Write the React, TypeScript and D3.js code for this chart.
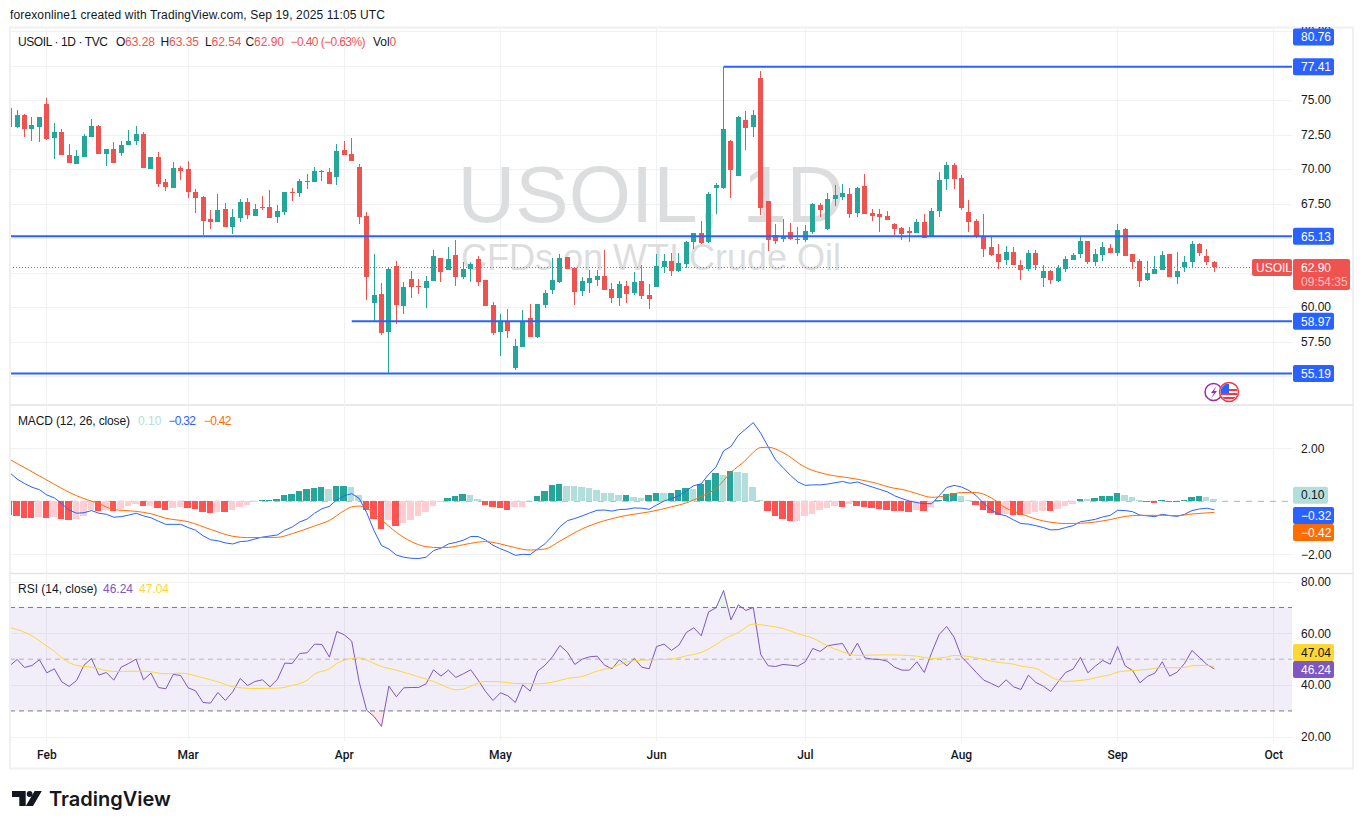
import * as React from 'react';
import { useEffect, useRef } from 'react';
import * as d3 from 'd3';

// bar index of the first array entry, Feb 3 is bar 0
const firstBar = -5;

const opens = [
  74.40,73.04,73.91,72.92,73.07,74.71,72.27,72.68,71.01,70.39,
  70.89,72.34,73.12,71.11,71.45,71.18,71.74,72.03,72.54,70.02,
  70.87,69.06,68.65,70.07,70.00,68.33,67.97,66.38,66.18,67.10,
  65.82,66.47,67.61,66.62,67.25,67.25,66.52,66.88,68.36,68.26,
  69.13,69.06,69.81,69.78,69.42,71.37,71.09,70.15,66.59,60.29,
  60.94,58.19,62.97,60.07,62.03,61.52,61.38,61.88,63.55,62.68,
  63.77,62.17,62.75,63.48,61.96,60.14,58.19,58.93,55.58,57.10,
  59.20,57.83,60.14,61.23,61.81,63.62,62.83,61.16,61.74,61.96,
  62.25,61.30,60.65,61.52,61.01,61.88,60.87,61.45,62.90,63.33,
  62.61,63.12,64.71,65.36,64.71,68.62,68.62,72.03,69.49,73.55,
  73.04,76.59,67.68,65.22,64.93,65.43,64.95,64.85,65.43,67.39,
  65.65,67.82,67.97,68.19,66.81,68.77,66.81,66.74,66.59,66.01,
  65.72,65.51,65.36,66.16,65.07,66.96,69.28,70.29,69.35,66.88,
  66.23,65.14,64.35,63.84,63.41,63.99,63.04,62.75,63.91,62.10,
  62.61,61.88,62.75,63.41,63.84,64.78,63.26,63.77,64.28,63.91,
  65.65,63.84,63.33,61.96,62.39,62.68,63.84,62.17,62.90,63.26,
  64.57,63.70,63.28,
];
const highs = [
  74.45,74.27,73.96,73.77,73.80,75.15,73.33,72.90,71.81,71.37,
  72.54,73.62,73.19,71.47,71.96,72.03,72.83,73.12,72.68,70.89,
  71.23,69.27,70.51,70.22,70.58,68.55,68.04,67.03,68.19,67.53,
  67.10,67.83,67.90,67.46,68.04,68.48,67.39,68.35,68.62,69.27,
  69.64,70.15,69.93,70.07,71.81,72.03,72.25,70.36,66.88,63.84,
  61.74,62.90,63.33,61.81,62.61,62.03,62.25,64.13,63.57,64.35,
  64.86,63.26,63.26,63.70,61.98,60.36,59.49,59.85,57.68,59.78,
  60.22,60.24,61.23,63.55,63.84,63.64,62.85,62.17,62.68,62.68,
  64.13,61.74,61.88,61.88,62.54,63.04,61.67,63.84,63.84,63.91,
  63.91,64.78,65.38,66.23,68.33,68.98,77.41,72.10,73.84,74.20,
  74.27,77.10,67.70,66.01,66.38,66.09,65.80,65.94,67.54,67.54,
  68.26,68.84,68.91,68.62,68.70,69.64,67.10,67.10,66.96,66.09,
  65.80,65.80,66.38,66.74,67.17,69.78,70.51,70.43,69.57,67.75,
  66.38,66.74,65.14,64.56,64.42,64.35,63.41,64.13,64.13,63.04,
  62.68,63.04,63.70,63.91,65.07,64.80,64.20,64.71,64.57,66.02,
  65.72,63.86,63.48,63.33,63.70,64.06,63.86,63.99,63.70,64.78,
  64.64,64.20,63.35,
];
const lows = [
  72.98,72.97,72.34,72.05,71.98,72.12,70.75,71.02,70.44,70.37,
  70.87,72.32,71.09,70.25,70.44,70.94,71.72,71.74,70.08,70.00,
  68.72,68.43,68.63,69.23,67.92,66.84,65.22,65.68,66.16,65.80,
  65.31,66.18,66.40,66.60,67.03,66.45,66.11,66.69,67.68,67.99,
  68.55,69.04,69.13,68.89,68.84,70.99,70.56,66.01,60.51,58.98,
  57.97,55.19,58.77,59.49,60.65,60.94,59.93,61.86,61.81,62.66,
  61.52,62.03,61.81,61.52,60.05,57.97,56.45,57.75,55.43,57.08,
  57.81,57.75,59.93,60.94,61.71,62.73,60.14,60.80,61.01,61.52,
  61.21,60.29,60.07,60.29,60.87,60.58,59.85,61.43,62.46,62.25,
  62.54,62.83,64.20,64.57,64.64,66.74,68.55,67.90,69.47,71.38,
  72.32,66.67,64.06,64.56,64.71,64.85,64.56,64.71,65.29,66.52,
  65.58,67.32,67.75,66.45,66.52,66.72,66.23,65.43,66.28,65.22,
  64.85,64.71,65.34,64.97,65.05,66.52,68.48,68.55,67.03,65.43,
  64.99,63.62,63.70,62.75,63.04,63.02,61.96,62.61,62.68,61.45,
  61.67,61.81,62.54,63.39,63.55,63.12,62.97,63.33,63.89,63.70,
  63.68,62.75,61.45,61.88,62.37,62.66,62.15,61.67,62.54,62.83,
  63.70,63.04,62.54,
];
const closes = [
  73.02,73.91,72.92,73.19,73.77,72.17,72.68,71.04,70.46,70.94,
  72.39,73.12,71.11,71.45,70.46,71.74,72.03,72.54,70.10,70.87,
  68.94,68.72,70.07,69.88,68.36,67.92,66.25,66.18,67.03,65.82,
  66.52,67.61,66.69,67.10,67.15,66.47,66.96,68.33,68.28,69.13,
  69.06,69.85,69.88,68.91,71.30,71.01,70.58,66.52,62.17,60.87,
  58.12,62.75,60.14,61.45,61.45,61.47,61.88,63.70,62.54,63.48,
  62.17,62.75,63.12,61.81,60.07,58.12,58.91,58.26,57.17,58.98,
  57.83,60.22,61.01,61.96,63.55,62.75,61.09,61.88,62.10,62.25,
  61.23,60.65,61.67,60.94,61.81,60.80,60.58,62.97,63.33,62.61,
  63.19,64.71,65.36,64.64,68.19,68.84,72.90,69.93,73.77,72.97,
  73.91,67.17,64.85,64.78,65.14,64.93,64.88,65.51,67.46,67.03,
  67.82,68.12,68.26,66.74,68.62,66.74,66.59,66.52,66.30,65.65,
  65.29,65.36,66.16,64.99,66.96,69.20,70.29,69.28,67.17,66.16,
  65.07,64.20,63.77,63.26,63.99,63.04,62.68,63.91,63.04,62.61,
  61.96,62.83,63.48,63.77,64.78,63.26,63.84,64.35,63.91,65.58,
  63.70,63.26,61.88,62.46,62.75,63.77,62.17,62.61,63.26,64.57,
  63.91,63.26,62.90,
];

const macdHist = [
  -0.52,-0.55,-0.63,-0.63,-0.59,-0.63,-0.59,-0.67,-0.70,-0.67,
  -0.55,-0.33,-0.36,-0.33,-0.36,-0.29,-0.18,-0.10,-0.18,-0.17,
  -0.25,-0.33,-0.25,-0.21,-0.25,-0.29,-0.40,-0.44,-0.40,-0.41,
  -0.33,-0.21,-0.14,-0.04,0.05,0.06,0.09,0.24,0.28,0.39,
  0.47,0.50,0.54,0.47,0.58,0.59,0.54,0.24,-0.33,-0.67,
  -1.04,-0.70,-0.93,-0.82,-0.70,-0.55,-0.40,-0.18,-0.04,0.13,
  0.20,0.28,0.24,0.09,-0.14,-0.21,-0.25,-0.33,-0.21,-0.20,
  0.02,0.20,0.39,0.62,0.65,0.58,0.58,0.54,0.50,0.43,
  0.31,0.31,0.24,0.25,0.16,0.13,0.24,0.31,0.31,0.32,
  0.43,0.50,0.47,0.65,0.81,1.07,0.99,1.14,1.11,1.07,
  0.54,0.05,-0.36,-0.55,-0.67,-0.74,-0.73,-0.55,-0.48,-0.33,
  -0.25,-0.18,-0.21,-0.10,-0.18,-0.21,-0.25,-0.29,-0.33,-0.36,
  -0.37,-0.40,-0.33,-0.36,-0.21,0.05,0.28,0.31,0.20,0.05,
  -0.14,-0.33,-0.44,-0.52,-0.48,-0.52,-0.52,-0.48,-0.40,-0.36,
  -0.36,-0.29,-0.18,-0.10,0.09,0.09,0.13,0.20,0.21,0.31,
  0.24,0.16,0.05,-0.04,-0.05,0.05,-0.03,-0.03,0.05,0.16,
  0.20,0.16,0.10,
];
const macdLine = [
  1.08,0.84,0.67,0.53,0.44,0.24,0.13,-0.09,-0.33,-0.45,
  -0.43,-0.35,-0.45,-0.49,-0.60,-0.58,-0.52,-0.45,-0.55,-0.62,
  -0.75,-0.87,-0.87,-0.87,-0.99,-1.09,-1.30,-1.45,-1.49,-1.57,
  -1.61,-1.52,-1.50,-1.42,-1.35,-1.31,-1.27,-1.09,-0.97,-0.78,
  -0.67,-0.45,-0.28,-0.19,0.06,0.21,0.29,0.11,-0.42,-1.11,
  -1.67,-1.80,-2.03,-2.11,-2.15,-2.16,-2.11,-1.86,-1.77,-1.61,
  -1.55,-1.47,-1.33,-1.33,-1.46,-1.66,-1.79,-1.90,-2.04,-2.00,
  -2.01,-1.80,-1.60,-1.30,-0.96,-0.73,-0.65,-0.55,-0.44,-0.34,
  -0.33,-0.37,-0.31,-0.30,-0.25,-0.26,-0.30,-0.14,0.01,0.10,
  0.21,0.40,0.59,0.66,1.02,1.30,1.90,2.07,2.49,2.73,
  2.97,2.57,2.06,1.56,1.27,0.98,0.73,0.60,0.62,0.62,
  0.65,0.70,0.75,0.68,0.73,0.63,0.54,0.45,0.36,0.21,
  0.10,0.01,-0.05,-0.09,-0.09,0.21,0.52,0.60,0.54,0.41,
  0.21,-0.08,-0.33,-0.48,-0.55,-0.70,-0.84,-0.86,-0.92,-0.99,
  -1.08,-1.07,-0.99,-0.92,-0.77,-0.73,-0.68,-0.59,-0.53,-0.34,
  -0.35,-0.39,-0.52,-0.55,-0.58,-0.49,-0.54,-0.57,-0.49,-0.35,
  -0.29,-0.26,-0.32,
];
const signalBars = [
  -5,0,1,4,7,9,12,14,16,19,22,25,27,31,33,36,38,40,41,42,43,45,47,49,51,53,54,
  56,58,59,61,63,65,67,69,72,75,78,81,84,86,88,90,92,94,95,96,97,99,102,105,108,111,114,
  115,117,119,121,123,125,127,129,131,133,135,137,139,141,143,145,147,150,152,154,157,
];
const signalLine = [
  1.58,0.80,0.64,0.21,-0.09,-0.31,-0.38,-0.47,-0.64,-0.77,-1.06,-1.32,-1.37,-1.36,-1.22,-0.93,-0.72,-0.35,-0.21,-0.18,-0.26,-0.70,-1.17,-1.52,-1.71,-1.75,-1.74,
  -1.64,-1.54,-1.52,-1.61,-1.75,-1.84,-1.80,-1.50,-1.04,-0.73,-0.53,-0.40,-0.21,-0.06,0.18,0.49,1.09,1.56,1.85,2.03,2.04,1.84,1.28,1.01,0.88,0.72,0.49,
  0.45,0.29,0.15,0.21,0.33,0.33,0.13,-0.26,-0.47,-0.67,-0.79,-0.84,-0.83,-0.78,-0.69,-0.57,-0.53,-0.53,-0.54,-0.48,-0.42,
];

const rsiLine = [
  47.45,49.90,46.80,47.58,49.77,44.74,46.29,41.26,39.46,41.78,
  47.70,50.28,43.84,44.87,41.90,46.93,48.35,50.02,42.03,44.61,
  39.07,38.55,44.10,43.71,38.94,37.78,33.27,33.01,37.14,34.05,
  37.40,42.55,39.84,41.39,42.03,39.33,42.16,48.48,48.35,52.22,
  52.47,55.82,55.69,50.80,60.72,59.43,56.98,41.26,30.31,27.86,
  24.00,39.59,35.46,38.94,39.07,39.07,40.49,45.90,43.45,45.77,
  42.94,44.35,45.90,41.90,37.52,34.05,37.01,35.85,33.27,40.10,
  37.65,45.39,47.70,50.93,55.31,52.73,47.96,50.02,50.93,51.18,
  47.70,46.29,49.77,47.45,50.28,46.93,46.29,54.92,55.82,53.38,
  55.44,60.33,62.14,59.05,68.32,69.87,76.57,65.23,71.03,68.84,
  70.00,51.83,47.45,47.19,47.96,47.70,47.32,49.00,54.15,52.99,
  55.18,55.69,56.08,51.31,56.21,50.54,50.02,49.90,49.25,46.93,
  45.77,45.77,49.00,44.87,52.60,59.56,62.65,58.53,50.93,47.96,
  44.87,41.90,40.62,39.20,42.03,39.33,38.30,43.84,41.00,39.59,
  37.52,41.26,44.87,46.16,50.67,44.74,47.32,49.51,48.09,54.92,
  47.45,45.64,40.88,43.32,44.61,49.00,43.45,45.00,48.35,53.38,
  50.67,47.96,46.24,
];
const rsiMaBars = [
  -5,-2,0,1,2,4,6,9,13,16,18,21,23,25,28,31,33,35,36,38,39,41,42,44,45,47,50,52,54,
  55,56,57,59,61,63,66,68,70,72,74,76,78,80,83,84,86,88,90,91,93,95,97,99,101,103,105,107,109,111,113,
  115,117,119,121,122,124,126,128,130,131,133,134,135,136,137,138,140,142,143,144,146,148,150,152,153,154,156,157,
];
const rsiMaLine = [
  62.27,59.05,55.05,53.12,50.54,47.58,46.93,45.26,45.39,44.35,44.61,42.81,41.26,39.33,38.68,38.81,39.84,41.90,44.23,46.29,48.35,50.28,50.54,48.35,47.19,45.77,43.19,41.39,38.94,
  38.17,38.43,39.59,41.39,41.26,40.62,40.49,41.13,42.55,43.32,45.39,46.80,48.99,49.64,49.90,50.02,51.31,52.60,55.69,57.63,60.33,63.56,62.91,61.88,59.82,58.14,55.18,52.86,51.44,51.57,51.70,
  51.57,51.18,50.28,50.80,51.44,51.06,49.90,48.74,48.09,47.32,46.42,44.87,43.19,41.90,41.39,41.52,42.16,43.45,43.97,45.00,45.64,46.03,46.80,46.67,46.80,47.45,47.58,47.04,
];

const monthBars = [0, 19, 40, 61, 82, 102, 123, 144, 165];
const monthNames = ['Feb', 'Mar', 'Apr', 'May', 'Jun', 'Jul', 'Aug', 'Sep', 'Oct'];
const priceGrid = [80, 77.5, 75, 72.5, 70, 67.5, 65, 62.5, 60, 57.5, 55];
const macdTicks = [2, -2];
const rsiTicks = [80, 60, 40, 20];
// drawn levels: price and the bar they start from
const levelPrices = [77.41, 65.13, 58.97, 55.19];
const levelStarts = [91, -6, 41, -6];

const FONT = "'Liberation Sans', Arial, sans-serif";
const INK = '#131722';
const GRID = '#f0f1f3';
const UP = '#26a69a';
const DOWN = '#ef5350';
const BLUE = '#2962ff';

const L = 10, R = 1292;

const App: React.FC = () => {
  const svgRef = useRef<SVGSVGElement>(null);

  useEffect(() => {
    if (!svgRef.current) return;
    const svg = d3.select(svgRef.current);
    svg.selectAll('*').remove();

    const x = d3.scaleLinear().domain([0, 165]).range([46.85, 1273.8]);
    const y = d3.scaleLinear().domain([55, 75]).range([376, 100]);
    const macdY = d3.scaleLinear().domain([-2, 2]).range([554.3, 448.3]);
    const rsiY = d3.scaleLinear().domain([20, 80]).range([736.8, 581.6]);
    const bars = opens.map((_, i) => i + firstBar);
    const px = (b: number) => Math.floor(x(b));

    const defs = svg.append('defs');
    defs.append('clipPath').attr('id', 'plot').append('rect')
      .attr('x', 11).attr('y', 28).attr('width', R - 11).attr('height', 712);
    defs.append('clipPath').attr('id', 'axis').append('rect')
      .attr('x', R).attr('y', 27).attr('width', 60).attr('height', 714);
    defs.append('clipPath').attr('id', 'over').append('rect')
      .attr('x', 11).attr('y', 574).attr('width', R - 11).attr('height', rsiY(70) - 574);
    defs.append('clipPath').attr('id', 'under').append('rect')
      .attr('x', 11).attr('y', rsiY(30)).attr('width', R - 11).attr('height', 30);
    defs.append('clipPath').attr('id', 'flag').append('circle')
      .attr('cx', 1229).attr('cy', 392).attr('r', 8.5);

    const text = (tx: number, ty: number, s: string, fill = INK, fit?: number) => {
      const t = svg.append('text').attr('x', tx).attr('y', ty).attr('fill', fill)
        .attr('font-family', FONT).attr('font-size', 12).text(s);
      if (fit) t.attr('textLength', fit).attr('lengthAdjust', 'spacing');
      return t;
    };

    text(10, 19, 'forexonline1 created with TradingView.com, Sep 19, 2025 11:05 UTC', INK, 375);

    // frame and pane separators
    svg.append('rect').attr('x', 10).attr('y', 27.5).attr('width', 1343).attr('height', 741)
      .attr('fill', 'none').attr('stroke', '#f0f0f0').attr('stroke-width', 2);
    [405, 573.5].forEach(sep => {
      svg.append('line').attr('x1', L).attr('x2', 1353).attr('y1', sep).attr('y2', sep)
        .attr('stroke', '#e0e3eb').attr('stroke-width', 1.5);
    });

    // grid
    const grid = svg.append('g').attr('stroke', GRID).attr('stroke-width', 1).attr('shape-rendering', 'crispEdges');
    monthBars.forEach(b => {
      grid.append('line').attr('x1', px(b) + 0.5).attr('x2', px(b) + 0.5).attr('y1', 28).attr('y2', 741);
    });
    const hline = (py: number) => {
      grid.append('line').attr('x1', L).attr('x2', R).attr('y1', Math.round(py) + 0.5).attr('y2', Math.round(py) + 0.5);
    };
    priceGrid.forEach(p => hline(y(p)));
    macdTicks.forEach(v => hline(macdY(v)));
    rsiTicks.forEach(v => hline(rsiY(v)));

    // watermark
    const mark = svg.append('g').attr('fill', '#dcddde').attr('font-family', FONT).attr('text-anchor', 'middle');
    mark.append('text').attr('x', 651).attr('y', 222).attr('font-size', 80).text('USOIL, 1D');
    mark.append('text').attr('x', 651).attr('y', 270).attr('font-size', 36).text('CFDs on WTI Crude Oil');

    const plot = svg.append('g').attr('clip-path', 'url(#plot)');

    // last price line
    const lastClose = closes[closes.length - 1];
    plot.append('line').attr('x1', L).attr('x2', 1252).attr('y1', 267.5).attr('y2', 267.5)
      .attr('stroke', DOWN).attr('stroke-dasharray', '1,2');

    // candles
    const candles = plot.append('g').attr('shape-rendering', 'crispEdges');
    candles.selectAll('.wick').data(bars).join('rect')
      .attr('x', b => px(b))
      .attr('width', 1)
      .attr('y', (_, i) => y(highs[i]))
      .attr('height', (_, i) => Math.max(1, y(lows[i]) - y(highs[i])))
      .attr('fill', (_, i) => (closes[i] >= opens[i] ? UP : DOWN));
    candles.selectAll('.body').data(bars).join('rect')
      .attr('x', b => px(b) - 2)
      .attr('width', 5)
      .attr('y', (_, i) => y(Math.max(opens[i], closes[i])))
      .attr('height', (_, i) => Math.max(1, Math.abs(y(opens[i]) - y(closes[i]))))
      .attr('fill', (_, i) => (closes[i] >= opens[i] ? UP : DOWN));

    // level lines
    levelPrices.forEach((p, i) => {
      plot.append('line').attr('x1', x(levelStarts[i])).attr('x2', R).attr('y1', y(p)).attr('y2', y(p))
        .attr('stroke', BLUE).attr('stroke-width', 2);
    });

    // MACD pane
    const zero = macdY(0);
    plot.append('line').attr('x1', L).attr('x2', R).attr('y1', zero).attr('y2', zero)
      .attr('stroke', '#787b86').attr('stroke-opacity', 0.6).attr('stroke-dasharray', '6,6');
    plot.append('g').attr('shape-rendering', 'crispEdges').selectAll('rect').data(macdHist).join('rect')
      .attr('x', (_, i) => px(bars[i] - 1) + 4)
      .attr('width', (_, i) => px(bars[i]) + 3 - (px(bars[i] - 1) + 4))
      .attr('y', d => (d >= 0 ? macdY(d) : zero))
      .attr('height', d => Math.abs(macdY(d) - zero))
      .attr('fill', (d, i) => {
        const rising = i > 0 && macdHist[i - 1] < d;
        if (d >= 0) return rising ? UP : '#b2dfdb';
        return rising ? '#ffcdd2' : '#ff5252';
      });
    const macdPath = d3.line<number>().x((_, i) => x(bars[i])).y(d => macdY(d));
    plot.append('path').attr('d', macdPath(macdLine)).attr('fill', 'none').attr('stroke', BLUE).attr('stroke-width', 1);
    const signalPath = d3.line<number>().x((_, i) => x(signalBars[i])).y(d => macdY(d)).curve(d3.curveMonotoneX);
    plot.append('path').attr('d', signalPath(signalLine)).attr('fill', 'none').attr('stroke', '#ff6d00').attr('stroke-width', 1);

    // RSI pane
    plot.append('rect').attr('x', L).attr('width', R - L)
      .attr('y', rsiY(70)).attr('height', rsiY(30) - rsiY(70))
      .attr('fill', '#7e57c2').attr('fill-opacity', 0.1);
    [[70, 1], [50, 0.5], [30, 1]].forEach(([lvl, op]) => {
      plot.append('line').attr('x1', L).attr('x2', R).attr('y1', rsiY(lvl)).attr('y2', rsiY(lvl))
        .attr('stroke', '#787b86').attr('stroke-opacity', op).attr('stroke-dasharray', '5,4');
    });
    const rsiArea = (lvl: number) => d3.area<number>().x((_, i) => x(bars[i])).y0(rsiY(lvl)).y1(d => rsiY(d));
    svg.append('path').attr('d', rsiArea(70)(rsiLine)).attr('clip-path', 'url(#over)').attr('fill', '#4caf50').attr('fill-opacity', 0.12);
    svg.append('path').attr('d', rsiArea(30)(rsiLine)).attr('clip-path', 'url(#under)').attr('fill', '#f23645').attr('fill-opacity', 0.12);
    const rsiPath = d3.line<number>().x((_, i) => x(bars[i])).y(d => rsiY(d));
    plot.append('path').attr('d', rsiPath(rsiLine)).attr('fill', 'none').attr('stroke', '#7e57c2').attr('stroke-width', 1);
    const rsiMaPath = d3.line<number>().x((_, i) => x(rsiMaBars[i])).y(d => rsiY(d)).curve(d3.curveMonotoneX);
    plot.append('path').attr('d', rsiMaPath(rsiMaLine)).attr('fill', 'none').attr('stroke', '#fdd835').attr('stroke-width', 1);

    // axes
    const styleAxis = (g: any) => {
      g.select('.domain').remove();
      g.selectAll('text').attr('fill', INK).attr('font-size', 12).attr('font-family', FONT);
    };
    const axes = svg.append('g').attr('clip-path', 'url(#axis)');
    axes.append('g').attr('transform', `translate(${R},0)`)
      .call(d3.axisRight(y).tickValues([80, 75, 72.5, 70, 67.5, 60, 57.5]).tickSize(0).tickPadding(9).tickFormat(d3.format('.2f')))
      .call(styleAxis);
    axes.append('g').attr('transform', `translate(${R},0)`)
      .call(d3.axisRight(macdY).tickValues(macdTicks).tickSize(0).tickPadding(9).tickFormat(d => d3.format('.2f')(d as number).replace('-', '\u2212')))
      .call(styleAxis);
    axes.append('g').attr('transform', `translate(${R},0)`)
      .call(d3.axisRight(rsiY).tickValues(rsiTicks).tickSize(0).tickPadding(9).tickFormat(d3.format('.2f')))
      .call(styleAxis);
    svg.append('g').attr('transform', 'translate(0,741)')
      .call(d3.axisBottom(x).tickValues(monthBars).tickSize(0).tickPadding(9).tickFormat((_, i) => monthNames[i]))
      .call(styleAxis)
      .selectAll('text').attr('font-family', 'Roboto, sans-serif').attr('font-weight', 500).attr('dx', -0.5);

    // scale labels
    const box = (cy: number, w: number, bg: string, s: string, fg = '#fff') => {
      svg.append('rect').attr('x', 1293).attr('y', cy - 8.5).attr('width', w).attr('height', 17).attr('rx', 2).attr('fill', bg);
      text(1301, cy + 4.3, s, fg);
    };
    box(37, 41, BLUE, '80.76');
    levelPrices.forEach(p => box(y(p), 41, BLUE, p.toFixed(2)));
    box(macdY(0.10) - 3.5, 35, '#b2dfdb', '0.10', INK);
    box(515.5, 41, BLUE, '\u22120.32');
    box(532.5, 41, '#ff6d00', '\u22120.42');
    box(652.5, 41, '#fdd835', '47.04', INK);
    box(669.5, 41, '#7e57c2', '46.24');

    // last price labels
    svg.append('rect').attr('x', 1252).attr('y', 259).attr('width', 40).attr('height', 17).attr('rx', 2).attr('fill', DOWN);
    text(1256, 272, 'USOIL', '#fff');
    svg.append('rect').attr('x', 1293).attr('y', 259).attr('width', 57).attr('height', 31).attr('rx', 2).attr('fill', DOWN);
    text(1301, 272, lastClose.toFixed(2), '#fff');
    text(1301, 286, '09:54:35', 'rgba(255,255,255,0.65)');

    // legends
    text(18, 46, 'USOIL \u00b7 1D \u00b7 TVC', INK, 90);
    const legendRed = '#ef5350';
    ([['O', 116, '63.28', 125], ['H', 160.5, '63.35', 169], ['L', 205, '62.54', 211.5], ['C', 245.5, '62.90', 254]] as [string, number, string, number][])
      .forEach(([k, kx, v, vx]) => {
        text(kx, 46, k);
        text(vx, 46, v, legendRed);
      });
    text(290.5, 46, '\u22120.40 (\u22120.63%)', legendRed, 75);
    text(373, 46, 'Vol');
    text(389.5, 46, '0', legendRed);

    text(18, 425, 'MACD (12, 26, close)', INK, 112);
    text(138, 425, '0.10', '#b2dfdb');
    text(168.5, 425, '\u22120.32', BLUE, 27.5);
    text(204, 425, '\u22120.42', '#ff6d00', 27.5);

    text(18, 593, 'RSI (14, close)');
    text(103, 593, '46.24', '#7e57c2');
    text(139, 593, '47.04', '#fdd835');

    // event badges
    svg.append('circle').attr('cx', 1213.5).attr('cy', 392).attr('r', 8.5).attr('fill', '#fff').attr('stroke', '#9c27b0').attr('stroke-width', 1.5);
    svg.append('path').attr('d', 'M1216.5 386 L1211 393 L1214 393 L1211.5 398 L1217 391 L1214 391 Z').attr('fill', '#9c27b0');
    svg.append('circle').attr('cx', 1229).attr('cy', 392).attr('r', 9.5).attr('fill', '#fff').attr('stroke', '#f23645').attr('stroke-width', 1.5);
    const flag = svg.append('g').attr('clip-path', 'url(#flag)');
    [389, 393, 397].forEach(sy => {
      flag.append('rect').attr('x', 1220).attr('y', sy).attr('width', 18).attr('height', 2).attr('fill', '#f23645');
    });
    flag.append('rect').attr('x', 1220).attr('y', 384).attr('width', 9).attr('height', 9).attr('fill', '#2962ff');

    // logo
    const logo = svg.append('g').attr('fill', '#131722');
    logo.append('path').attr('d', 'M12 791 H25.7 V806 H19.3 V797 H12 Z');
    logo.append('circle').attr('cx', 29.6).attr('cy', 794).attr('r', 2.9);
    logo.append('path').attr('d', 'M34.6 791 H41.8 L33 806 H25.8 Z');
    svg.append('text').attr('x', 49).attr('y', 806).attr('fill', '#131722')
      .attr('font-family', 'Inter, sans-serif').attr('font-weight', 600).attr('font-size', 20).text('TradingView');
  }, []);

  return (
    <svg
      ref={svgRef}
      width={1364}
      height={829}
      style={{ position: 'absolute', left: 0, top: 0, background: '#fff' }}
    />
  );
};

export default App;
